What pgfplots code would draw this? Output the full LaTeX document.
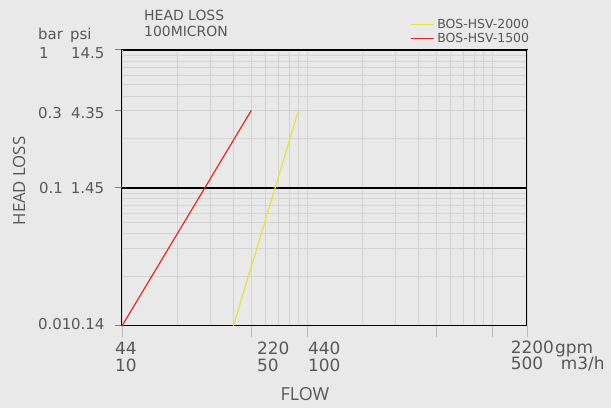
\documentclass[border=0pt]{standalone}
\usepackage{fontspec}
\setmainfont{DejaVu Sans}
\newfontfamily\labelfont{Open Sans}
\usepackage{pgfplots}
\pgfplotsset{compat=1.18}
\definecolor{bg}{HTML}{E9E9E9}
\definecolor{gridc}{HTML}{D3D3D3}
\definecolor{txt}{HTML}{585858}
\definecolor{hsvred}{HTML}{E8261E}
\definecolor{hsvyel}{HTML}{E4E43A}

% the chart's head-loss scale: each decade is split at 3 (1-3 takes 0.562 of a decade)
\pgfplotsset{
  headloss/.style={
    y coord trafo/.code={%
      \pgfmathparse{ln(##1)/2.302585}\let\hlu\pgfmathresult
      \pgfmathparse{floor(\hlu+0.00001)}\let\hlk\pgfmathresult
      \pgfmathparse{\hlu-\hlk}\let\hlf\pgfmathresult
      \pgfmathparse{\hlk+ifthenelse(\hlf<0.47712,\hlf/0.47712*0.562,0.562+(\hlf-0.47712)/0.52288*0.438)}%
    },
  },
}

\begin{document}
\begin{tikzpicture}
\fill[bg] (0bp,0bp) rectangle (611bp,408bp);
\useasboundingbox (0bp,0bp) rectangle (611bp,408bp);
\begin{axis}[
  at={(122bp,82.5bp)}, anchor=south west,
  scale only axis, width=405bp, height=275.5bp,
  headloss,
  xmode=log, xmin=10, xmax=1546,
  ymin=0.01, ymax=1,
  xtick={50,100,500,1000},
  minor xtick={20,30,40,60,70,80,90,200,300,400,600,700,800,900},
  ytick={0.01,0.3,1},
  minor ytick={0.02,0.03,0.04,0.05,0.06,0.07,0.08,0.09,0.2,0.4,0.5,0.6,0.7,0.8,0.9},
  xticklabels={}, yticklabels={},
  extra x ticks={10,1546}, extra x tick labels={},
  extra x tick style={tick style={black, line width=1.5bp}},
  extra y ticks={0.1}, extra y tick labels={},
  extra y tick style={major grid style={black, line width=1.6bp}},
  grid=both,
  major grid style={gridc, line width=1bp},
  minor grid style={gridc, line width=1bp},
  tick align=outside, tick pos=left,
  major tick length=11bp, minor tick length=0pt,
  x tick style={gridc!70!gray, line width=1bp},
  y tick style={gray, line width=1bp, /pgfplots/major tick length=7.5bp},
  axis line style={black, line width=1.5bp},
  legend style={at={(0.712,1.118)}, anchor=north west, draw=none, fill=none,
    font=\fontsize{12.5}{12.5}\selectfont, text=txt, inner sep=0pt,
    nodes={inner ysep=1.7bp, inner xsep=2.5bp}},
  legend cell align=left,
  legend image code/.code={\draw[#1, line width=1.2bp] (0bp,0bp) -- (23bp,0bp);},
]
\addplot[hsvyel, line width=1.2bp] coordinates {(40,0.01) (90,0.3)};
\addlegendentry{BOS-HSV-2000}
\addplot[hsvred, line width=1.2bp] coordinates {(10,0.01) (50,0.3)};
\addlegendentry{BOS-HSV-1500}
\end{axis}

\begin{scope}[every node/.style={anchor=base west, inner sep=0pt, text=txt}]
  % bar / psi column
  \begin{scope}[font=\fontsize{15}{15}\selectfont]
    \node at (38bp,368bp) {bar};   \node at (70bp,368bp) {psi};
    \node at (39bp,349.7bp) {1};   \node at (71bp,349.7bp) {14.5};
    \node at (38bp,289.7bp) {0.3}; \node at (71bp,289.7bp) {4.35};
    \node at (39bp,214.7bp) {0.1}; \node at (70.7bp,214.7bp) {1.45};
    \node at (38bp,78.7bp) {0.01}; \node at (71bp,78.7bp) {0.14};
  \end{scope}
  % gpm / m3/h
  \begin{scope}[font=\fontsize{17}{17}\selectfont]
    \node at (115bp,53bp) {44};    \node at (115bp,37bp) {10};
    \node at (257bp,53bp) {220};   \node at (257bp,37bp) {50};
    \node at (308bp,53bp) {440};   \node at (308bp,37bp) {100};
    \node at (510.7bp,54.7bp) {2200}; \node at (555bp,54.7bp) {gpm};
    \node at (510.7bp,39bp) {500};    \node at (560.7bp,39bp) {m3/h};
  \end{scope}
  \begin{scope}[font=\fontsize{14}{14}\selectfont]
    \node at (144bp,387.3bp) {HEAD LOSS};
    \node at (144bp,371.3bp) {100MICRON};
  \end{scope}
\end{scope}
\node[anchor=base, inner sep=0pt, text=txt, font=\labelfont\fontsize{18}{18}\selectfont] at (305bp,8bp) {FLOW};
\node[anchor=base, rotate=90, inner sep=0pt, text=txt, font=\labelfont\fontsize{16.8}{16.8}\selectfont] at (25bp,227bp) {HEAD LOSS};
\end{tikzpicture}
\end{document}
